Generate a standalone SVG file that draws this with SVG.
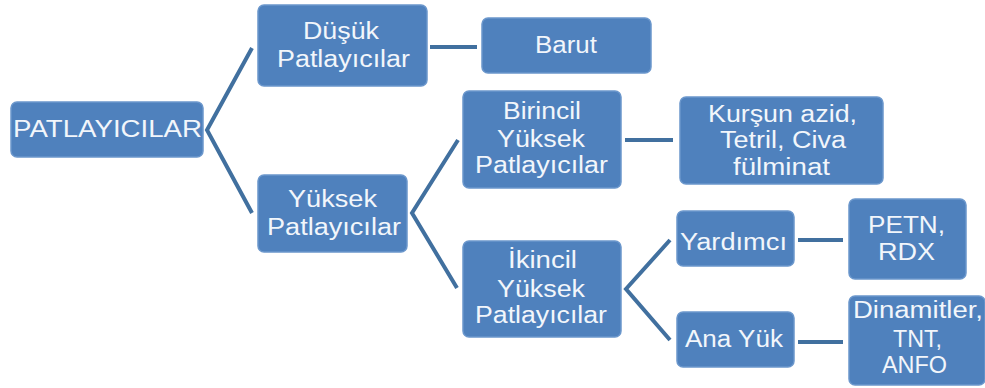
<svg xmlns="http://www.w3.org/2000/svg" width="985" height="388" viewBox="0 0 985 388">
<style>
.box{fill:#4F81BD;stroke:#6b97cc;stroke-width:1.5}
.t{font-family:"Liberation Sans",Arial,sans-serif;font-size:23px;fill:#f2f6fb;text-anchor:middle}
.c{fill:none;stroke:#41709f;stroke-width:4;stroke-linejoin:miter}
</style>
<rect width="985" height="388" fill="#ffffff"/>
<g id="connectors">
<path class="c" d="M252,48 L207,130 L252,213"/>
<path class="c" d="M430,47 H477"/>
<path class="c" d="M458,140 L412,213 L457,288"/>
<path class="c" d="M625,140 H673"/>
<path class="c" d="M670,240 L626,289 L670,340"/>
<path class="c" d="M798,240 H843"/>
<path class="c" d="M798,342 H843"/>
</g>
<g id="n-patlayicilar">
<rect class="box" x="11" y="102" width="192" height="55" rx="6"/>
<text class="t" x="107.5" y="137" textLength="189" lengthAdjust="spacingAndGlyphs">PATLAYICILAR</text>
</g>
<g id="n-dusuk">
<rect class="box" x="258" y="5" width="169" height="81" rx="6"/>
<text class="t" x="341" y="39" textLength="76" lengthAdjust="spacingAndGlyphs">Düşük</text>
<text class="t" x="343.5" y="67" textLength="133" lengthAdjust="spacingAndGlyphs">Patlayıcılar</text>
</g>
<g id="n-barut">
<rect class="box" x="482" y="18" width="169" height="55" rx="6"/>
<text class="t" x="566" y="53" textLength="62" lengthAdjust="spacingAndGlyphs">Barut</text>
</g>
<g id="n-yuksek">
<rect class="box" x="258" y="175" width="149" height="77" rx="6"/>
<text class="t" x="332.5" y="207" textLength="89" lengthAdjust="spacingAndGlyphs">Yüksek</text>
<text class="t" x="334" y="235" textLength="134" lengthAdjust="spacingAndGlyphs">Patlayıcılar</text>
</g>
<g id="n-birincil">
<rect class="box" x="463" y="91" width="158" height="97" rx="6"/>
<text class="t" x="542" y="119" textLength="78" lengthAdjust="spacingAndGlyphs">Birincil</text>
<text class="t" x="541" y="147" textLength="88" lengthAdjust="spacingAndGlyphs">Yüksek</text>
<text class="t" x="541.5" y="173" textLength="133" lengthAdjust="spacingAndGlyphs">Patlayıcılar</text>
</g>
<g id="n-ikincil">
<rect class="box" x="463" y="241" width="158" height="96" rx="6"/>
<text class="t" x="542.5" y="268" textLength="69" lengthAdjust="spacingAndGlyphs">İkincil</text>
<text class="t" x="541" y="297" textLength="88" lengthAdjust="spacingAndGlyphs">Yüksek</text>
<text class="t" x="541" y="323" textLength="132" lengthAdjust="spacingAndGlyphs">Patlayıcılar</text>
</g>
<g id="n-kursun">
<rect class="box" x="680" y="97" width="203" height="87" rx="6"/>
<text class="t" x="782.5" y="122" textLength="149" lengthAdjust="spacingAndGlyphs">Kurşun azid,</text>
<text class="t" x="783" y="148" textLength="126" lengthAdjust="spacingAndGlyphs">Tetril, Civa</text>
<text class="t" x="781.5" y="175" textLength="97" lengthAdjust="spacingAndGlyphs">fülminat</text>
</g>
<g id="n-yardimci">
<rect class="box" x="677" y="211" width="117" height="55" rx="6"/>
<text class="t" x="733.5" y="250" textLength="107" lengthAdjust="spacingAndGlyphs">Yardımcı</text>
</g>
<g id="n-petn">
<rect class="box" x="849" y="199" width="117" height="80" rx="6"/>
<text class="t" x="906.5" y="233" textLength="77" lengthAdjust="spacingAndGlyphs">PETN,</text>
<text class="t" x="906.5" y="260" textLength="57" lengthAdjust="spacingAndGlyphs">RDX</text>
</g>
<g id="n-anayuk">
<rect class="box" x="677" y="312" width="117" height="55" rx="6"/>
<text class="t" x="734" y="347" textLength="98" lengthAdjust="spacingAndGlyphs">Ana Yük</text>
</g>
<g id="n-dinamitler">
<rect class="box" x="849" y="296" width="136" height="89" rx="6"/>
<text class="t" x="918" y="318" textLength="130" lengthAdjust="spacingAndGlyphs">Dinamitler,</text>
<text class="t" x="917.5" y="347" textLength="49" lengthAdjust="spacingAndGlyphs">TNT,</text>
<text class="t" x="914.5" y="373" textLength="65" lengthAdjust="spacingAndGlyphs">ANFO</text>
</g>
</svg>
